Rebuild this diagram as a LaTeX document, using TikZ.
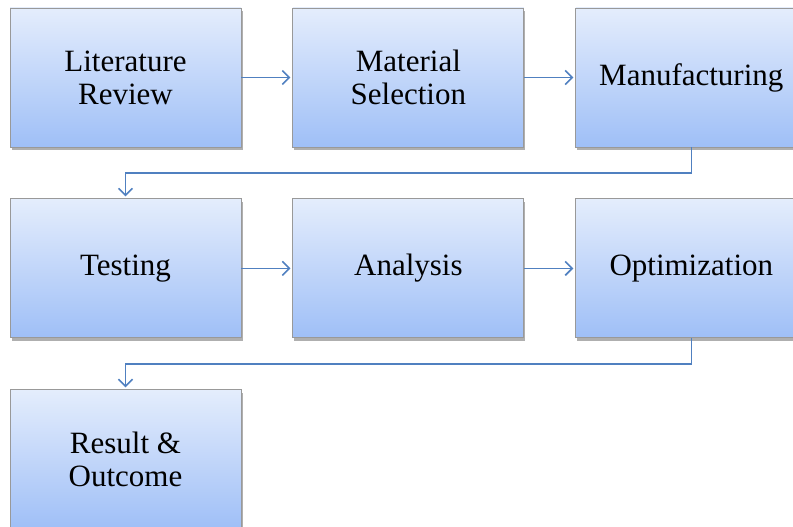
\documentclass[tikz,border=0pt]{standalone}
\usepackage{fontspec}
\setmainfont{Liberation Serif}
\usetikzlibrary{positioning,arrows.meta,shadows}

\tikzset{
    stage/.style={rectangle, draw=gray!80, line width=0.9pt,
        top color=boxtop, bottom color=boxbottom,
        minimum width=231pt, minimum height=139pt,
        align=center, inner sep=0pt,
        font=\fontsize{31}{33}\selectfont,
        drop shadow={shadow xshift=1.5pt, shadow yshift=-3pt, fill=gray!70, opacity=0.9}},
    flow/.style={draw=flowblue, line width=1.6pt, shorten >=2pt,
        -{Straight Barb[length=7pt,width=14pt,line width=1.6pt]}}
}
\definecolor{boxtop}{HTML}{E4EDFC}
\definecolor{boxbottom}{HTML}{9FBFF7}
\definecolor{flowblue}{HTML}{5080C0}

\begin{document}
\begin{tikzpicture}[x=1pt,y=1pt]
                        \useasboundingbox (0,0) rectangle (793,-527);
                        \clip (0,0) rectangle (793,-527);

                        \node[stage] (lit) at (125.5,-77.5) {Literature\\Review};
                        \node[stage, right=51pt of lit] (mat) {Material\\Selection};
                        \node[stage, right=51pt of mat] (manu) {Manufacturing};

                        \node[stage, below=51pt of lit] (test) {Testing};
                        \node[stage, right=51pt of test] (ana) {Analysis};
                        \node[stage, right=51pt of ana] (opt) {Optimization};

                        \node[stage, below=51pt of test] (res) {Result \&\\Outcome};

                        \draw[flow] (lit) -- (mat);
                        \draw[flow] (mat) -- (manu);
                        \draw[flow] (manu.south) -- ++(0,-25.5) -| (test.north);

                        \draw[flow] (test) -- (ana);
                        \draw[flow] (ana) -- (opt);
                        \draw[flow] (opt.south) -- ++(0,-25.5) -| (res.north);
                    \end{tikzpicture}
\end{document}
